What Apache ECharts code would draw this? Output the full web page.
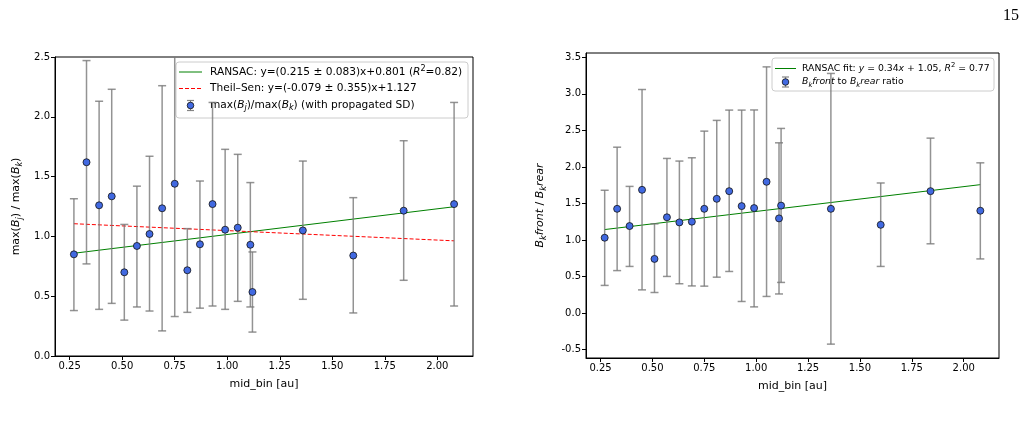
<!DOCTYPE html>
<html>
<head>
<meta charset="utf-8">
<script src="https://cdn.jsdelivr.net/npm/echarts@6/dist/echarts.min.js"></script>
<style>
  html, body { margin: 0; padding: 0; background: #fff; }
  #chart { width: 1022px; height: 428px; }
</style>
</head>
<body>
<div id="chart"></div>
<script>
// bin centres, shared by both panels
var midBin = [0.27, 0.33, 0.39, 0.45, 0.51, 0.57, 0.63, 0.69, 0.75, 0.81,
              0.87, 0.93, 0.99, 1.05, 1.11, 1.12, 1.36, 1.60, 1.84, 2.08];

// left panel: max(Bj)/max(Bk) with propagated SD
var maxRatio   = [0.85, 1.62, 1.26, 1.335, 0.70, 0.92, 1.02, 1.235, 1.44, 0.717,
                  0.934, 1.27, 1.056, 1.073, 0.93, 0.535, 1.05, 0.84, 1.215, 1.27];
var maxRatioLo = [0.38, 0.77, 0.39, 0.44, 0.30, 0.41, 0.376, 0.21, 0.33, 0.365,
                  0.40, 0.418, 0.39, 0.457, 0.41, 0.20, 0.474, 0.36, 0.633, 0.418];
var maxRatioHi = [1.315, 2.47, 2.13, 2.23, 1.10, 1.42, 1.67, 2.26, 2.55, 1.065,
                  1.463, 2.12, 1.728, 1.686, 1.45, 0.87, 1.63, 1.324, 1.80, 2.12];

// right panel: Bk front / Bk rear
var frRatio   = [1.03, 1.426, 1.19, 1.686, 0.74, 1.31, 1.24, 1.25, 1.426, 1.563,
                 1.668, 1.463, 1.436, 1.796, 1.295, 1.47, 1.426, 1.207, 1.668, 1.40];
var frRatioLo = [0.377, 0.58, 0.637, 0.316, 0.28, 0.50, 0.40, 0.37, 0.367, 0.49,
                 0.568, 0.157, 0.083, 0.226, 0.26, 0.418, -0.427, 0.637, 0.947, 0.74];
var frRatioHi = [1.68, 2.27, 1.733, 3.06, 1.22, 2.116, 2.08, 2.125, 2.49, 2.637,
                 2.778, 2.778, 2.78, 3.37, 2.33, 2.527, 3.28, 1.78, 2.394, 2.056];

// fitted lines, evaluated at the ends of the data range
var fitX         = [0.27, 2.08];
var ransacLeftY  = [0.859, 1.248];
var theilLeftY   = [1.106, 0.963];
var ransacRightY = [1.142, 1.757];

// tick labels
var xTicks      = [0.25, 0.50, 0.75, 1.00, 1.25, 1.50, 1.75, 2.00];
var yTicksLeft  = [0.0, 0.5, 1.0, 1.5, 2.0, 2.5];
var yTicksRight = [-0.5, 0.0, 0.5, 1.0, 1.5, 2.0, 2.5, 3.0, 3.5];

var FONT = 'DejaVu Sans';

function zip() {
    var arrs = arguments;
    return arrs[0].map(function(v, i) {
        return Array.prototype.map.call(arrs, function(a) { return a[i]; });
    });
}

function errorBarRender(params, api) {
    var x = api.value(0);
    var lo = api.coord([x, api.value(1)]);
    var hi = api.coord([x, api.value(2)]);
    var cs = params.coordSys;
    var top = Math.max(hi[1], cs.y);
    var bot = Math.min(lo[1], cs.y + cs.height);
    var cap = 4;
    var style = { stroke: 'rgba(120,120,120,0.8)', lineWidth: 1.5 };
    var children = [{
        type: 'line', shape: { x1: lo[0], y1: top, x2: lo[0], y2: bot }, style: style
    }];
    if (hi[1] >= cs.y) {
        children.push({ type: 'line', shape: { x1: hi[0] - cap, y1: hi[1], x2: hi[0] + cap, y2: hi[1] }, style: style });
    }
    if (lo[1] <= cs.y + cs.height) {
        children.push({ type: 'line', shape: { x1: lo[0] - cap, y1: lo[1], x2: lo[0] + cap, y2: lo[1] }, style: style });
    }
    return { type: 'group', children: children };
}

function xAxisFor(gridIndex) {
    return {
        gridIndex: gridIndex,
        type: 'value',
        min: 0.18,
        max: 2.17,
        name: 'mid_bin [au]',
        nameLocation: 'middle',
        nameGap: 23,
        nameTextStyle: { fontFamily: FONT, fontSize: 11, color: '#000' },
        axisLine: { show: true, onZero: false, lineStyle: { color: '#000', width: 1 } },
        axisTick: { show: true, length: 4, customValues: xTicks, lineStyle: { color: '#000' } },
        axisLabel: {
            customValues: xTicks, margin: 5, color: '#000', fontFamily: FONT, fontSize: 10,
            formatter: function(v) { return v.toFixed(2); }
        },
        splitLine: { show: false }
    };
}

function yAxisFor(gridIndex, min, max, ticks, name, rich, gap) {
    return {
        gridIndex: gridIndex,
        type: 'value',
        min: min,
        max: max,
        name: name,
        nameLocation: 'middle',
        nameGap: gap,
        nameTextStyle: { fontFamily: FONT, fontSize: 11, color: '#000', rich: rich },
        axisLine: { show: true, onZero: false, lineStyle: { color: '#000', width: 1 } },
        axisTick: { show: true, length: 4, customValues: ticks, lineStyle: { color: '#000' } },
        axisLabel: {
            customValues: ticks, margin: 5, color: '#000', fontFamily: FONT, fontSize: 10,
            formatter: function(v) { return v.toFixed(1); }
        },
        splitLine: { show: false }
    };
}

var base = { fontFamily: FONT, fontSize: 11, color: '#000' };
var nameRich = {
    n:   base,
    i:   { fontFamily: FONT, fontSize: 11, color: '#000', fontStyle: 'italic' },
    sub: { fontFamily: FONT, fontSize: 8, color: '#000', fontStyle: 'italic', padding: [7, 0, 0, 0] }
};

var legRich = function(fs) {
    return {
        n:   { fontFamily: FONT, fontSize: fs, color: '#000' },
        i:   { fontFamily: FONT, fontSize: fs, color: '#000', fontStyle: 'italic' },
        sub: { fontFamily: FONT, fontSize: fs - 2.5, color: '#000', fontStyle: 'italic', padding: [6, 0, 0, 0] },
        sup: { fontFamily: FONT, fontSize: fs - 2.5, color: '#000', padding: [0, 0, 6, 0] }
    };
};

function legendMarker(cx, cy) {
    var st = { stroke: 'rgba(120,120,120,0.9)', lineWidth: 1.2 };
    return [
        { type: 'line', shape: { x1: cx, y1: cy - 5, x2: cx, y2: cy + 5 }, style: st },
        { type: 'line', shape: { x1: cx - 3.5, y1: cy - 5, x2: cx + 3.5, y2: cy - 5 }, style: st },
        { type: 'line', shape: { x1: cx - 3.5, y1: cy + 5, x2: cx + 3.5, y2: cy + 5 }, style: st },
        { type: 'circle', shape: { cx: cx, cy: cy, r: 3.3 }, style: { fill: '#4169e1', stroke: '#111', lineWidth: 0.8 } }
    ];
}

var chart = echarts.init(document.getElementById('chart'));

var option = {
    animation: false,
    backgroundColor: '#fff',
    grid: [
        { left: 55, top: 57, width: 418, height: 299, show: true, borderColor: '#000', borderWidth: 1, backgroundColor: 'transparent' },
        { left: 586, top: 53, width: 413, height: 305, show: true, borderColor: '#000', borderWidth: 1, backgroundColor: 'transparent' }
    ],
    xAxis: [xAxisFor(0), xAxisFor(1)],
    yAxis: [
        yAxisFor(0, 0, 2.5, yTicksLeft,
            '{n|max(}{i|B}{sub|j}{n|) / max(}{i|B}{sub|k}{n|)}', nameRich, 31),
        yAxisFor(1, -0.617, 3.56, yTicksRight,
            '{i|B}{sub|k}{i|front}{n| / }{i|B}{sub|k}{i|rear}', nameRich, 38)
    ],
    series: [
        {
            type: 'line', xAxisIndex: 0, yAxisIndex: 0, symbol: 'none', z: 2,
            data: zip(fitX, ransacLeftY),
            lineStyle: { color: '#008000', width: 1 }
        },
        {
            type: 'line', xAxisIndex: 0, yAxisIndex: 0, symbol: 'none', z: 2,
            data: zip(fitX, theilLeftY),
            lineStyle: { color: '#ff0000', width: 1, type: [4, 2] }
        },
        {
            type: 'custom', xAxisIndex: 0, yAxisIndex: 0, z: 3,
            renderItem: errorBarRender,
            data: zip(midBin, maxRatioLo, maxRatioHi)
        },
        {
            type: 'scatter', xAxisIndex: 0, yAxisIndex: 0, z: 4,
            symbolSize: 7,
            itemStyle: { color: '#4169e1', borderColor: '#111', borderWidth: 0.8, opacity: 1 },
            data: zip(midBin, maxRatio)
        },
        {
            type: 'line', xAxisIndex: 1, yAxisIndex: 1, symbol: 'none', z: 2,
            data: zip(fitX, ransacRightY),
            lineStyle: { color: '#008000', width: 1 }
        },
        {
            type: 'custom', xAxisIndex: 1, yAxisIndex: 1, z: 3,
            renderItem: errorBarRender,
            data: zip(midBin, frRatioLo, frRatioHi)
        },
        {
            type: 'scatter', xAxisIndex: 1, yAxisIndex: 1, z: 4,
            symbolSize: 7,
            itemStyle: { color: '#4169e1', borderColor: '#111', borderWidth: 0.8, opacity: 1 },
            data: zip(midBin, frRatio)
        }
    ],
    graphic: [
        // page number
        {
            type: 'text', left: 1003, top: 8,
            style: { text: '15', fontFamily: 'Liberation Serif', fontSize: 16, fill: '#000' }
        },
        // left legend
        {
            type: 'group', z: 100,
            children: [
                { type: 'rect', shape: { x: 176, y: 62, width: 292, height: 56, r: 3 },
                  style: { fill: 'rgba(255,255,255,0.8)', stroke: '#cccccc', lineWidth: 1 } },
                { type: 'line', shape: { x1: 179, y1: 72, x2: 202, y2: 72 }, style: { stroke: '#008000', lineWidth: 1 } },
                { type: 'line', shape: { x1: 179, y1: 88.5, x2: 202, y2: 88.5 }, style: { stroke: '#ff0000', lineWidth: 1, lineDash: [4, 2] } },
                { type: 'text', x: 210, y: 72, style: {
                    text: '{n|RANSAC: y=(0.215 ± 0.083)x+0.801 (}{i|R}{sup|2}{n|=0.82)}',
                    rich: legRich(10.6), verticalAlign: 'middle' } },
                { type: 'text', x: 210, y: 88.5, style: {
                    text: '{n|Theil–Sen: y=(-0.079 ± 0.355)x+1.127}',
                    rich: legRich(10.6), verticalAlign: 'middle' } },
                { type: 'text', x: 210, y: 105, style: {
                    text: '{n|max(}{i|B}{sub|j}{n|)/max(}{i|B}{sub|k}{n|) (with propagated SD)}',
                    rich: legRich(10.6), verticalAlign: 'middle' } }
            ].concat(legendMarker(190.5, 105.5))
        },
        // right legend
        {
            type: 'group', z: 100,
            children: [
                { type: 'rect', shape: { x: 772, y: 58, width: 222, height: 33, r: 3 },
                  style: { fill: 'rgba(255,255,255,0.8)', stroke: '#cccccc', lineWidth: 1 } },
                { type: 'line', shape: { x1: 775, y1: 68.5, x2: 796, y2: 68.5 }, style: { stroke: '#008000', lineWidth: 1 } },
                { type: 'text', x: 802, y: 68.5, style: {
                    text: '{n|RANSAC fit: }{i|y}{n| = 0.34}{i|x}{n| + 1.05, }{i|R}{sup|2}{n| = 0.77}',
                    rich: legRich(9.3), verticalAlign: 'middle' } },
                { type: 'text', x: 802, y: 82, style: {
                    text: '{i|B}{sub|k}{i|front}{n| to }{i|B}{sub|k}{i|rear}{n| ratio}',
                    rich: legRich(9.3), verticalAlign: 'middle' } }
            ].concat(legendMarker(785.5, 82))
        }
    ]
};

chart.setOption(option);
</script>
</body>
</html>
